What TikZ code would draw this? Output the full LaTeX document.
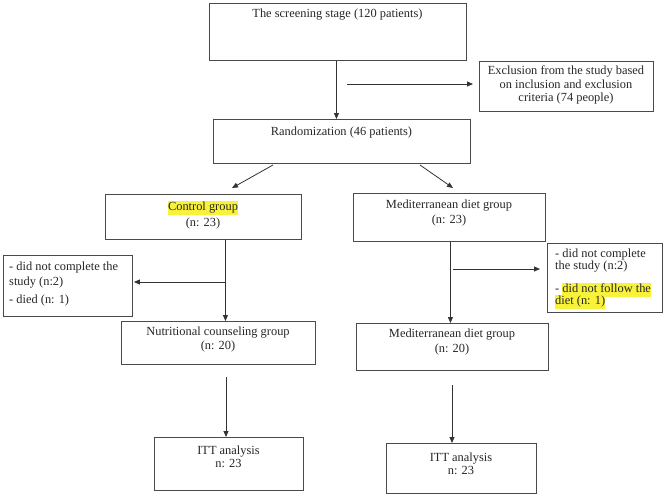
\documentclass[tikz,border=0pt]{standalone}
\usepackage{fontspec}
\setmainfont{Liberation Serif}
\usetikzlibrary{arrows.meta}
\definecolor{boxline}{HTML}{4A4A4A}
\definecolor{arrline}{HTML}{333333}
\definecolor{hly}{HTML}{F8F23A}
\newcommand\hlt[1]{{\setlength{\fboxsep}{0pt}\colorbox{hly}{\strut #1}}}
\tikzset{
  box/.style={draw=boxline, line width=0.9pt, inner sep=0pt, anchor=north west},
  txt/.style={inner sep=0pt, align=center, text=black!85, font=\fontsize{12.4}{14}\selectfont},
  ltxt/.style={txt, align=left, anchor=west},
  arr/.style={draw=arrline, line width=0.8pt, -{Triangle[length=6pt,width=5pt]}},
}
\begin{document}
\begin{tikzpicture}[x=1pt,y=-1pt]
\useasboundingbox (0,0) rectangle (664,496);
% boxes
\node[box, minimum width=257pt, minimum height=57pt] (sc) at (209,3) {};
\node[box, minimum width=174pt, minimum height=50pt] (excl) at (479,61) {};
\node[box, minimum width=257pt, minimum height=44pt] (rand) at (213,119) {};
\node[box, minimum width=196pt, minimum height=45pt] (ctrl) at (105,194) {};
\node[box, minimum width=192pt, minimum height=48pt] (med1) at (353,193) {};
\node[box, minimum width=129pt, minimum height=61pt] (lex) at (3,255) {};
\node[box, minimum width=115pt, minimum height=69pt] (rex) at (547,243) {};
\node[box, minimum width=194pt, minimum height=43pt] (nutr) at (121,321) {};
\node[box, minimum width=192pt, minimum height=47pt] (med2) at (356,323) {};
\node[box, minimum width=149pt, minimum height=53pt] (ittl) at (154,437) {};
\node[box, minimum width=150pt, minimum height=50pt] (ittr) at (386,443) {};
% texts
\node[txt] (tsc) at (337.5,15) {The screening stage (120 patients)};
\node[txt] (texcl) at (566,85) {Exclusion from the study based\\[-0.5pt]on inclusion and exclusion\\[-0.5pt]criteria (74 people)};
\node[txt] (trand) at (341.5,133) {Randomization (46 patients)};
\node[txt] (tctrl) at (203,215) {\hlt{Control group}\\[2pt](n: 23)};
\node[txt] (tmed1) at (449,213) {Mediterranean diet group\\[1pt](n: 23)};
\node[ltxt] (tlex) at (9,284) {- did not complete the\\[1pt]study (n:2)\\[4pt]- died (n: 1)};
\node[ltxt] (trex) at (555,279) {- did not complete\\[-2pt]the study (n:2)\\[9pt]- \hlt{did not follow the}\\[-2pt]\hlt{diet (n: 1)}};
\node[txt] (tnutr) at (218,340) {Nutritional counseling group\\(n: 20)};
\node[txt] (tmed2) at (452,342.5) {Mediterranean diet group\\[1pt](n: 20)};
\node[txt] (tittl) at (228.5,456.5) {ITT analysis\\[-1pt]n: 23};
\node[txt] (tittr) at (461,463.5) {ITT analysis\\[-1pt]n: 23};
% connectors
\draw[arr] ([xshift=-1.5pt]sc.south) -- ([xshift=-5.5pt]rand.north);
\coordinate (e0) at (347,84);
\draw[arr, shorten >=6pt] (e0) -- (e0 -| excl.west);
\coordinate (r1) at (273,165);
\coordinate (r2) at (232,188);
\draw[arr] (r1) -- (r2);
\coordinate (r3) at (420,165);
\coordinate (r4) at (453,188);
\draw[arr] (r3) -- (r4);
\draw[arr] ([xshift=22pt]ctrl.south) -- ([xshift=7pt]nutr.north);
\coordinate (l0) at (225,282);
\draw[arr, shorten >=1pt] (l0) -- (l0 -| lex.east);
\draw[arr] ([xshift=1pt]med1.south) -- ([xshift=-2pt]med2.north);
\coordinate (m0) at (453,269);
\draw[arr, shorten >=7pt] (m0) -- (m0 -| rex.west);
\coordinate (n0) at (226,377);
\draw[arr] (n0) -- (n0 |- ittl.north);
\coordinate (n1) at (452,385);
\draw[arr] (n1) -- (n1 |- ittr.north);
\end{tikzpicture}
\end{document}
